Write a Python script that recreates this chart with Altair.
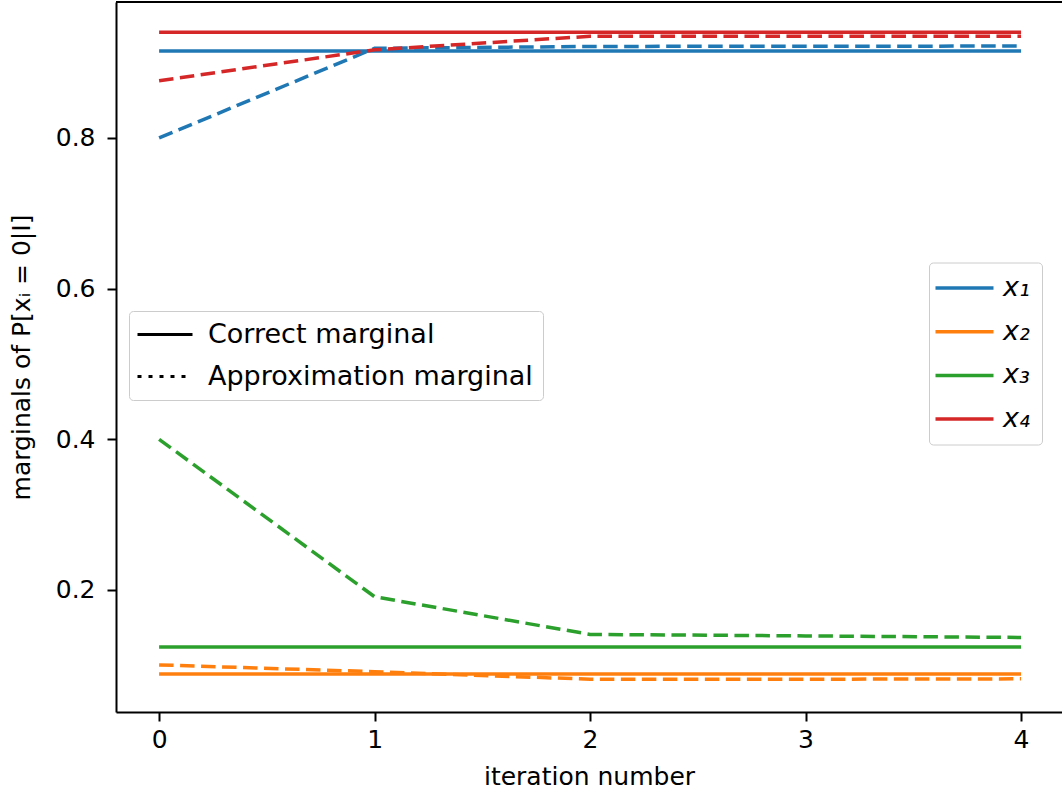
import altair as alt
import pandas as pd

iterations = [0, 1, 2, 3, 4]
variables = ["x₁", "x₂", "x₃", "x₄"]
colors = ["#1f77b4", "#ff7f0e", "#2ca02c", "#d62728"]
kinds = ["Correct marginal", "Approximation marginal"]

correct = [0.9155, 0.0885, 0.1243, 0.9405]
approx = [
    [0.800, 0.919, 0.9215, 0.9218, 0.922],
    [0.1005, 0.0915, 0.0815, 0.0815, 0.082],
    [0.400, 0.191, 0.141, 0.139, 0.137],
    [0.876, 0.917, 0.935, 0.935, 0.935],
]

rows = []
for vi, v in enumerate(variables):
    for it in iterations:
        rows.append({"iteration": it, "var": v, "kind": kinds[0], "value": correct[vi]})
    for it, val in zip(iterations, approx[vi]):
        rows.append({"iteration": it, "var": v, "kind": kinds[1], "value": val})
df = pd.DataFrame(rows)

FONT = "DejaVu Sans"
FS = 25

xscale = alt.Scale(domain=[-0.2, 4.19], nice=False, zero=False)
yscale = alt.Scale(domain=[0.038, 0.9805], nice=False, zero=False)

xenc = alt.X("iteration:Q", scale=xscale,
             axis=alt.Axis(values=iterations, format="d", title="iteration number",
                           labelPadding=6, titlePadding=12))
yenc = alt.Y("value:Q", scale=yscale,
             axis=alt.Axis(values=[0.2, 0.4, 0.6, 0.8], format=".1f",
                           title="marginals of P[xᵢ = 0|I]",
                           labelPadding=12, titlePadding=21))

lines = alt.Chart(df).mark_line(strokeWidth=3.5, strokeCap="butt").encode(
    x=xenc,
    y=yenc,
    color=alt.Color("var:N", scale=alt.Scale(domain=variables, range=colors),
                    legend=alt.Legend(
                        orient="none", legendX=813, legendY=260.5, title=None,
                        symbolType="M-1,0H10.6", symbolSize=100,
                        symbolStrokeWidth=3.5, symbolOffset=-14,
                        labelOffset=49, labelFontStyle="italic", labelFontSize=27,
                        rowPadding=15.7, padding=12,
                        fillColor="white", strokeColor="#cccccc", cornerRadius=4)),
    strokeDash=alt.StrokeDash("kind:N", scale=alt.Scale(domain=kinds, range=[[1, 0], [14.5, 6.5]]),
                              legend=None),
    detail="kind:N",
)

dummy = alt.Chart(df).mark_line(opacity=0, strokeWidth=3).encode(
    x=alt.X("iteration:Q", scale=xscale),
    y=alt.Y("value:Q", scale=yscale),
    detail="var:N",
    strokeDash=alt.StrokeDash("kind:N", scale=alt.Scale(domain=kinds, range=[[1, 0], [4, 7]]),
                              legend=alt.Legend(
                                  orient="none", legendX=13, legendY=309, title=None,
                                  symbolType="M-1,0H10", symbolSize=100,
                                  symbolStrokeWidth=3, symbolStrokeColor="black",
                                  symbolOpacity=1, symbolOffset=-10,
                                  labelOffset=52, labelFontSize=27,
                                  rowPadding=14, padding=10,
                                  fillColor="white", strokeColor="#cccccc", cornerRadius=4)),
)

top = alt.Chart(pd.DataFrame({"a": [0]})).mark_rule(color="black", strokeWidth=2).encode(
    x=alt.value(0), x2=alt.value(960), y=alt.value(0))

chart = alt.layer(lines, dummy, top).resolve_scale(strokeDash="independent").properties(
    width=946, height=710,
    background="white",
    autosize=alt.AutoSizeParams(type="none"),
    padding={"left": 116, "top": 2, "right": 0, "bottom": 80},
).configure_view(stroke=None).configure_axis(
    labelFont=FONT, titleFont=FONT, labelFontSize=FS, titleFontSize=FS,
    titleFontWeight="normal", labelColor="black", titleColor="black",
    domainColor="black", domainWidth=2, tickColor="black", tickWidth=2, tickSize=9,
    grid=False, labelFlush=False,
).configure_legend(
    labelFont=FONT, labelFontSize=FS, labelColor="black", labelLimit=0,
)

chart.save("out.html", embed_options={"renderer": "svg", "actions": False})
